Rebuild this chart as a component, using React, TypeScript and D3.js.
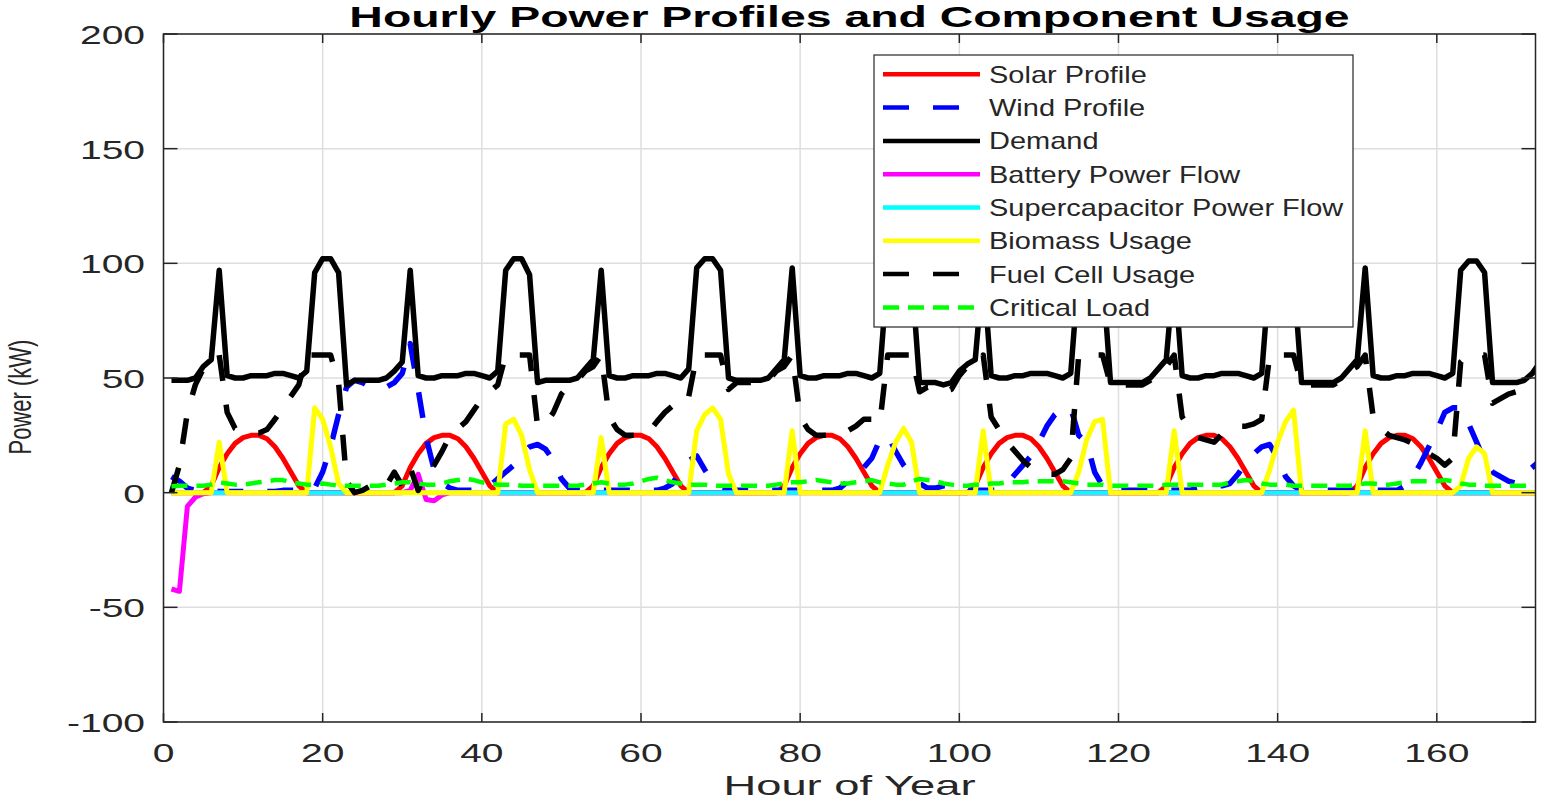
import { useEffect, useRef } from 'react';
import * as d3 from 'd3';

const WIDTH = 1544;
const HEIGHT = 803;

const xTicks = [0, 20, 40, 60, 80, 100, 120, 140, 160];
const yTicks = [-100, -50, 0, 50, 100, 150, 200];

// hourly values, one row per day (hour 1..173)
const solar = [
  0, 0, 0, 0, 0, 3, 11, 17, 21.5, 24, 25, 25, 23.5, 20, 15, 9, 3, 0, 0, 0, 0, 0, 0, 0,
  0, 0, 0, 0, 0, 3, 11, 17, 21.5, 24, 25, 25, 23.5, 20, 15, 9, 3, 0, 0, 0, 0, 0, 0, 0,
  0, 0, 0, 0, 0, 3, 11, 17, 21.5, 24, 25, 25, 23.5, 20, 15, 9, 3, 0, 0, 0, 0, 0, 0, 0,
  0, 0, 0, 0, 0, 3, 11, 17, 21.5, 24, 25, 25, 23.5, 20, 15, 9, 3, 0, 0, 0, 0, 0, 0, 0,
  0, 0, 0, 0, 0, 3, 11, 17, 21.5, 24, 25, 25, 23.5, 20, 15, 9, 3, 0, 0, 0, 0, 0, 0, 0,
  0, 0, 0, 0, 0, 3, 11, 17, 21.5, 24, 25, 25, 23.5, 20, 15, 9, 3, 0, 0, 0, 0, 0, 0, 0,
  0, 0, 0, 0, 0, 3, 11, 17, 21.5, 24, 25, 25, 23.5, 20, 15, 9, 3, 0, 0, 0, 0, 0, 0, 0,
  0, 0, 0, 0, 0,
];

const wind = [
  7, 5, 2, 1, 1, 1, 0.5, 0.5, 0.5, 0.5, 0.5, 0.5, 0.5, 0.5, 1, 1, 1, 1, 2, 9, 20, 34, 46, 49,
  48, 46, 45, 46, 48, 52, 65, 45, 24, 10, 4, 2, 1, 1, 1, 1, 3, 6, 9, 12, 17, 20, 21, 19,
  14, 6, 2, 1, 1, 1, 1, 1, 1, 1, 1, 1, 1, 1, 2, 4, 10, 14, 16, 10, 5, 2, 1, 1,
  1, 1, 1, 1, 1, 1, 1, 1, 1, 1, 1, 1, 2, 5, 8, 11, 15, 23, 25, 18, 12, 8, 4, 2,
  2, 3, 3, 2, 1, 1, 1, 1, 1, 4, 8, 12, 16, 22, 29, 34, 37, 37, 25, 22, 9, 3, 1, 1,
  1, 1, 1, 1, 1, 1, 1, 1, 1, 2, 3, 3, 3, 4, 8, 13, 17, 20, 21, 15, 7, 3, 1, 1,
  1, 1, 1, 1, 1, 1, 1, 1, 1, 1, 1, 3, 7, 13, 20, 27, 35, 37, 37, 30, 22, 14, 9, 7,
  5, 4, 8, 11, 14,
];

const demand = [
  49, 49, 49, 50, 55, 58, 97, 51, 50, 50, 51, 51, 51, 52, 52, 51, 50, 53, 96, 102, 102, 96, 47, 49,
  49, 49, 49, 50, 53, 57, 97, 51, 50, 50, 51, 51, 51, 52, 52, 51, 50, 53, 97, 102, 102, 95, 48, 49,
  49, 49, 49, 50, 54, 58, 97, 51, 50, 50, 51, 51, 51, 52, 52, 51, 50, 54, 98, 102, 102, 97, 50, 49,
  49, 49, 49, 50, 54, 58, 98, 51, 50, 50, 51, 51, 51, 52, 52, 51, 50, 52, 97, 101, 101, 96, 48, 48,
  48, 47, 48, 53, 56, 58, 98, 51, 50, 50, 51, 51, 52, 52, 52, 51, 50, 52, 97, 101, 101, 96, 48, 48,
  48, 48, 48, 50, 54, 58, 98, 51, 50, 50, 51, 51, 52, 52, 52, 51, 50, 52, 97, 101, 101, 96, 48, 48,
  48, 48, 48, 50, 54, 58, 98, 51, 50, 50, 51, 51, 52, 52, 52, 51, 50, 52, 97, 101, 101, 96, 48, 48,
  48, 48, 49, 52, 57,
];

const battery = [
  -42, -43, -6, -2, -0.5, 0, 0, 0, 0, 0, 0, 0, 0, 0, 0, 0, 0, 0, 0, 0, 0, 0, 0, 0,
  0, 0, 0, 0, 0, 0, 1, 8, -3, -3.5, -1, 0, 0, 0, 0, 0, 0, 0, 0, 0, 0, 0, 0, 0,
  0, 0, 0, 0, 0, 0, 0, 0, 0, 0, 0, 0, 0, 0, 0, 0, 0, 0, 0, 0, 0, 0, 0, 0,
  0, 0, 0, 0, 0, 0, 0, 0, 0, 0, 0, 0, 0, 0, 0, 0, 0, 0, 0, 0, 0, 0, 0, 0,
  0, 0, 0, 0, 0, 0, 0, 0, 0, 0, 0, 0, 0, 0, 0, 0, 0, 0, 0, 0, 0, 0, 0, 0,
  0, 0, 0, 0, 0, 0, 0, 0, 0, 0, 0, 0, 0, 0, 0, 0, 0, 0, 0, 0, 0, 0, 0, 0,
  0, 0, 0, 0, 0, 0, 0, 0, 0, 0, 0, 0, 0, 0, 0, 0, 0, 0, 0, 0, 0, 0, 0, 0,
  0, 0, 0, 0, 0,
];

const supercap = [
  0, 0, 0, 0, 0, 0, 0, 0, 0, 0, 0, 0, 0, 0, 0, 0, 0, 0, 0, 0, 0, 0, 0, 0,
  0, 0, 0, 0, 0, 0, 0, 0, 0, 0, 0, 0, 0, 0, 0, 0, 0, 0, 0, 0, 0, 0, 0, 0,
  0, 0, 0, 0, 0, 0, 0, 0, 0, 0, 0, 0, 0, 0, 0, 0, 0, 0, 0, 0, 0, 0, 0, 0,
  0, 0, 0, 0, 0, 0, 0, 0, 0, 0, 0, 0, 0, 0, 0, 0, 0, 0, 0, 0, 0, 0, 0, 0,
  0, 0, 0, 0, 0, 0, 0, 0, 0, 0, 0, 0, 0, 0, 0, 0, 0, 0, 0, 0, 0, 0, 0, 0,
  0, 0, 0, 0, 0, 0, 0, 0, 0, 0, 0, 0, 0, 0, 0, 0, 0, 0, 0, 0, 0, 0, 0, 0,
  0, 0, 0, 0, 0, 0, 0, 0, 0, 0, 0, 0, 0, 0, 0, 0, 0, 0, 0, 0, 0, 0, 0, 0,
  0, 0, 0, 0, 0,
];

const biomass = [
  0, 0, 0, 0, 0, 0, 22, 0, 0, 0, 0, 0, 0, 0, 0, 0, 0, 0, 37, 32, 20, 4, 0, 0,
  0, 0, 0, 0, 0, 0, 0, 0, 0, 0, 0, 0, 0, 0, 0, 0, 0, 0, 30, 32, 25, 10, 0, 0,
  0, 0, 0, 0, 0, 0, 24, 0, 0, 0, 0, 0, 0, 0, 0, 0, 0, 0, 27, 34, 37, 32, 8, 0,
  0, 0, 0, 0, 0, 0, 27, 0, 0, 0, 0, 0, 0, 0, 0, 0, 0, 0, 12, 22, 28, 22, 0, 0,
  0, 0, 0, 0, 0, 0, 27, 0, 0, 0, 0, 0, 0, 0, 0, 0, 0, 0, 9, 23, 31, 32, 0, 0,
  0, 0, 0, 0, 0, 0, 27, 0, 0, 0, 0, 0, 0, 0, 0, 0, 0, 0, 10, 22, 31, 36, 0, 0,
  0, 0, 0, 0, 0, 0, 27, 0, 0, 0, 0, 0, 0, 0, 0, 0, 0, 0, 3, 15, 20, 17, 0, 0,
  0, 0, 0, 0, 0,
];

const fuelCell = [
  0, 12, 35, 47, 54, 56, 60, 35, 28, 26, 26, 26, 27.5, 32, 37, 42, 47, 60, 60, 60, 60, 48, 5, 0,
  1, 3, 4, 3, 9, 3, 11, 1, 9, 12, 18, 25, 28, 31, 36, 41, 44, 47, 60, 60, 60, 60, 29, 30,
  35, 43, 47, 49, 53, 55, 60, 33, 27.5, 25, 25, 25, 26.5, 31, 35, 38, 37, 42, 60, 60, 60, 60, 45, 48,
  48, 48, 48, 49, 53, 55, 60, 33, 27.5, 25, 25, 25, 25.5, 27, 29, 32, 32, 30, 60, 60, 60, 60, 44, 46,
  46, 44, 45, 51, 55, 55, 60, 33, 27.5, 22, 18, 14, 11, 10, 8, 8, 10, 15, 60, 60, 60, 60, 47, 47,
  47, 47, 47, 49, 53, 55, 60, 33, 27.5, 24, 23, 22, 25.5, 28, 29, 29, 30, 32, 60, 60, 60, 60, 47, 47,
  47, 47, 47, 49, 53, 55, 60, 33, 28, 25, 24, 23, 21.5, 19, 17, 15, 12, 15, 57, 60, 60, 60, 39, 41,
  43, 44, 41, 41, 43,
];

const critical = [
  2.8, 3, 3, 3, 3, 3.5, 4.5, 4, 3.5, 3.5, 4, 4.5, 5, 5.5, 5.5, 4.5, 4, 3.5, 3.5, 4, 3.5, 3, 3, 3,
  3, 3, 3, 3.5, 4, 4.5, 4.5, 4, 3.5, 3.5, 4, 5, 5.5, 6, 5.5, 4.5, 4, 3.5, 3.5, 3.5, 3, 3, 3, 3,
  3, 3, 3, 3, 3.5, 4, 4.5, 4, 3.5, 3.5, 4, 5, 6, 6.5, 5.5, 4.5, 4, 3.5, 3.5, 3.5, 3, 3, 3, 3,
  3, 3, 3, 3, 3.5, 4, 4.5, 4.5, 5, 5.5, 5, 4.5, 4, 4, 4.5, 5, 5.5, 4.5, 4, 3.5, 3.5, 5, 6, 5.5,
  5, 4, 3.5, 3, 3, 3.5, 3.5, 4, 4, 4.5, 4.5, 4.5, 5, 5, 5, 5, 5, 4.5, 4, 3.5, 3.5, 3.5, 3, 3,
  3, 3, 3, 3, 3, 3.5, 3.5, 3.5, 3.5, 3.5, 3.5, 3.5, 3.5, 4.5, 5, 5.5, 5, 4, 3.5, 3.5, 3.5, 3, 3, 3,
  3, 3, 3, 3, 3, 3.5, 4, 4, 3.5, 3.5, 4, 4.5, 5, 5, 5, 5, 5.5, 5, 4, 3.5, 3.5, 3, 3, 3,
  3, 3, 3, 3, 3,
];

const hours = demand.map((_, i) => i + 1);

const series = [
  { name: 'Solar Profile', values: solar, color: '#ff0000', width: 5, dash: '' },
  { name: 'Wind Profile', values: wind, color: '#0000ff', width: 5.5, dash: '26 24' },
  { name: 'Demand', values: demand, color: '#000000', width: 5.5, dash: '' },
  { name: 'Battery Power Flow', values: battery, color: '#ff00ff', width: 5, dash: '' },
  { name: 'Supercapacitor Power Flow', values: supercap, color: '#00ffff', width: 4.5, dash: '' },
  { name: 'Biomass Usage', values: biomass, color: '#ffff00', width: 5, dash: '' },
  { name: 'Fuel Cell Usage', values: fuelCell, color: '#000000', width: 5.5, dash: '26 24' },
  { name: 'Critical Load', values: critical, color: '#00ff00', width: 4.5, dash: '16 9' },
];

const FONT = '"Liberation Sans", Arial, Helvetica, sans-serif';
const INK = '#262626';

export default function App() {
  const svgRef = useRef<SVGSVGElement>(null);

  useEffect(() => {
    if (!svgRef.current) return;
    const svg = d3.select(svgRef.current);
    svg.selectAll('*').remove();

    const left = 163.5;
    const right = 1535.5;
    const top = 34;
    const bottom = 722;

    const x = d3.scaleLinear().domain([0, 172.4]).range([left, right]);
    const y = d3.scaleLinear().domain([-100, 200]).range([bottom, top]);

    // stretched text helper (the figure is wider than it is tall)
    const label = (
      g: d3.Selection<SVGGElement, unknown, null, undefined>,
      tx: number,
      ty: number,
      text: string,
      size: number,
      sx: number,
      anchor: string,
      weight = 'normal',
      rotate = false
    ) => {
      g.append('text')
        .attr(
          'transform',
          rotate
            ? `translate(${tx},${ty}) rotate(-90) scale(1,${sx})`
            : `translate(${tx},${ty}) scale(${sx},1)`
        )
        .attr('text-anchor', anchor)
        .attr('font-family', FONT)
        .attr('font-size', size)
        .attr('font-weight', weight)
        .attr('fill', weight === 'bold' ? '#000' : INK)
        .text(text);
    };

    const root = svg.append('g');

    root.append('rect').attr('width', WIDTH).attr('height', HEIGHT).attr('fill', '#fff');

    // grid
    const grid = root.append('g').attr('stroke', '#dedede').attr('stroke-width', 1.5);
    xTicks.forEach(t => {
      grid.append('line').attr('x1', x(t)).attr('x2', x(t)).attr('y1', top).attr('y2', bottom);
    });
    yTicks.forEach(t => {
      grid.append('line').attr('x1', left).attr('x2', right).attr('y1', y(t)).attr('y2', y(t));
    });

    // data lines
    svg.append('defs')
      .append('clipPath')
      .attr('id', 'plot-clip')
      .append('rect')
      .attr('x', left)
      .attr('y', top)
      .attr('width', right - left)
      .attr('height', bottom - top);

    const plot = root.append('g').attr('clip-path', 'url(#plot-clip)');
    series.forEach(s => {
      const line = d3.line<number>()
        .x((_, i) => x(hours[i]))
        .y(d => y(d));
      plot.append('path')
        .attr('d', line(s.values) || '')
        .attr('fill', 'none')
        .attr('stroke', s.color)
        .attr('stroke-width', s.width)
        .attr('stroke-linejoin', 'round')
        .attr('stroke-dasharray', s.dash || null);
    });

    // axes box and ticks
    const axes = root.append('g').attr('stroke', INK).attr('stroke-width', 1.5);
    axes.append('rect')
      .attr('x', left)
      .attr('y', top)
      .attr('width', right - left)
      .attr('height', bottom - top)
      .attr('fill', 'none');
    xTicks.forEach(t => {
      axes.append('line').attr('x1', x(t)).attr('x2', x(t)).attr('y1', bottom).attr('y2', bottom - 9);
      axes.append('line').attr('x1', x(t)).attr('x2', x(t)).attr('y1', top).attr('y2', top + 9);
    });
    yTicks.forEach(t => {
      axes.append('line').attr('x1', left).attr('x2', left + 14).attr('y1', y(t)).attr('y2', y(t));
      axes.append('line').attr('x1', right).attr('x2', right - 14).attr('y1', y(t)).attr('y2', y(t));
    });

    const text = root.append('g');
    xTicks.forEach(t => label(text, x(t), 762, String(t), 26, 1.5, 'middle'));
    yTicks.forEach(t => label(text, 145, y(t) + 10, String(t), 26, 1.5, 'end'));

    label(text, (left + right) / 2, 27, 'Hourly Power Profiles and Component Usage', 29, 1.6, 'middle', 'bold');
    label(text, (left + right) / 2, 795, 'Hour of Year', 28, 1.62, 'middle');
    label(text, 31, 397, 'Power (kW)', 22, 1.45, 'middle', 'normal', true);

    // legend
    const legend = root.append('g');
    legend.append('rect')
      .attr('x', 874)
      .attr('y', 55)
      .attr('width', 479)
      .attr('height', 272)
      .attr('fill', '#fff')
      .attr('stroke', INK)
      .attr('stroke-width', 1.2);
    series.forEach((s, i) => {
      const cy = 74.3 + i * 33.3;
      legend.append('line')
        .attr('x1', 883)
        .attr('x2', 980)
        .attr('y1', cy)
        .attr('y2', cy)
        .attr('stroke', s.color)
        .attr('stroke-width', Math.min(s.width, 4.5))
        .attr('stroke-dasharray', s.dash || null);
      label(legend, 989, cy + 8.5, s.name, 23, 1.26, 'start');
    });
  }, []);

  return (
    <svg
      ref={svgRef}
      width={WIDTH}
      height={HEIGHT}
      style={{ position: 'absolute', left: 0, top: 0, display: 'block' }}
    />
  );
}
